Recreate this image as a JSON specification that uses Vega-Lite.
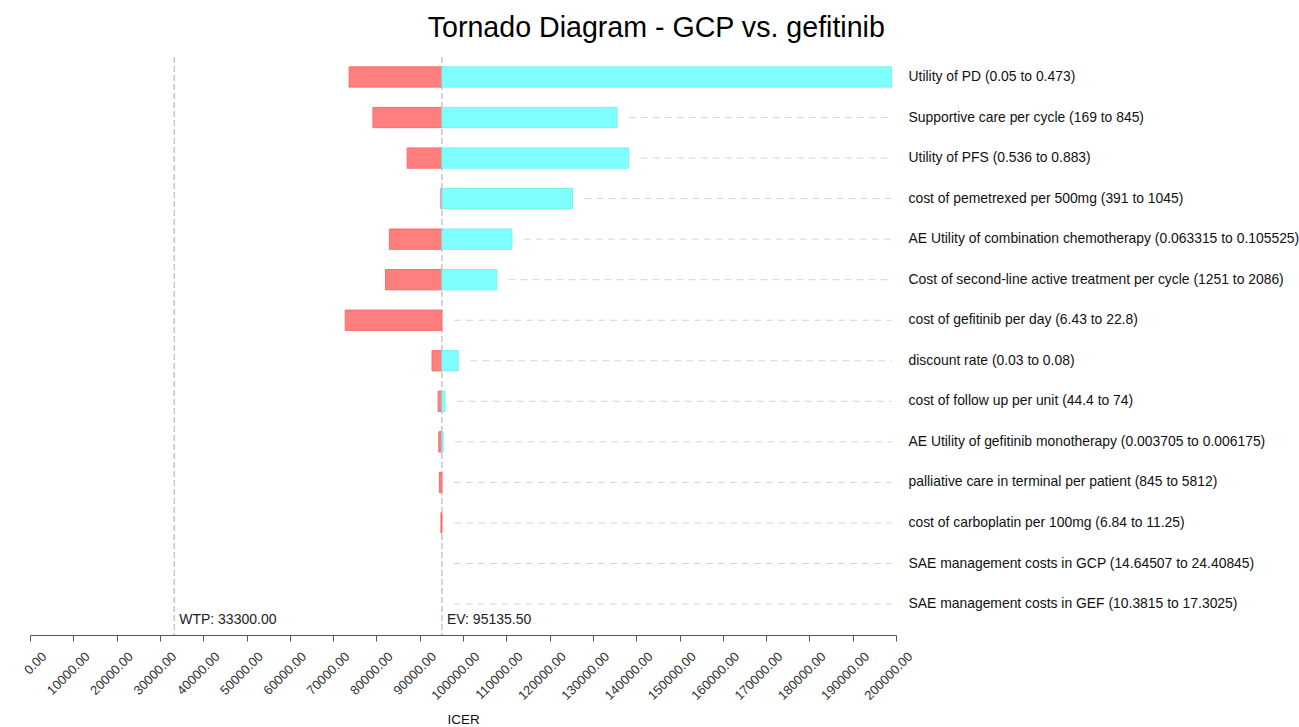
{
  "$schema": "https://vega.github.io/schema/vega-lite/v6.json",
  "autosize": {"type": "none"},
  "padding": {"left": 30, "top": 57, "right": 403, "bottom": 92},
  "width": 866,
  "height": 578,
  "background": "white",
  "config": {
    "font": "Liberation Sans",
    "view": {"stroke": null}
  },
  "title": {
    "text": "Tornado Diagram - GCP vs. gefitinib",
    "fontSize": 28.6,
    "fontWeight": "normal",
    "color": "#000000",
    "anchor": "middle",
    "frame": "bounds",
    "dx": -4,
    "offset": 14
  },
  "datasets": {
    "bars": [
      {"param": "Utility of PD (0.05 to 0.473)", "low": 73700, "high": 199000},
      {"param": "Supportive care per cycle (169 to 845)", "low": 79200, "high": 135600},
      {"param": "Utility of PFS (0.536 to 0.883)", "low": 87100, "high": 138300},
      {"param": "cost of pemetrexed per 500mg (391 to 1045)", "low": 94900, "high": 125300},
      {"param": "AE Utility of combination chemotherapy (0.063315 to 0.105525)", "low": 83000, "high": 111300},
      {"param": "Cost of second-line active treatment per cycle (1251 to 2086)", "low": 82100, "high": 107800},
      {"param": "cost of gefitinib per day (6.43 to 22.8)", "low": 72800, "high": 95135.5},
      {"param": "discount rate (0.03 to 0.08)", "low": 92850, "high": 98900},
      {"param": "cost of follow up per unit (44.4 to 74)", "low": 94250, "high": 95850},
      {"param": "AE Utility of gefitinib monotherapy (0.003705 to 0.006175)", "low": 94400, "high": 95400},
      {"param": "palliative care in terminal per patient (845 to 5812)", "low": 94550, "high": 95135.5},
      {"param": "cost of carboplatin per 100mg (6.84 to 11.25)", "low": 94900, "high": 95135.5},
      {"param": "SAE management costs in GCP (14.64507 to 24.40845)", "low": 95135.5, "high": 95135.5},
      {"param": "SAE management costs in GEF (10.3815 to 17.3025)", "low": 95135.5, "high": 95135.5}
    ],
    "refs": [
      {"label": "WTP: 33300.00", "value": 33300},
      {"label": "EV: 95135.50", "value": 95135.5}
    ]
  },
  "layer": [
    {
      "data": {"name": "bars"},
      "mark": {"type": "bar", "opacity": 0},
      "encoding": {
        "y": {
          "field": "param", "type": "nominal", "sort": null,
          "scale": {"paddingInner": 0.5, "paddingOuter": 0.378, "align": 0.321},
          "axis": {"orient": "right", "title": null, "domain": false, "ticks": false, "labelPadding": 12, "labelFontSize": 13.9, "labelColor": "#111111", "labelLimit": 500, "labelFont": "Liberation Sans"}
        },
        "x": {
          "field": "low", "type": "quantitative",
          "scale": {"domain": [0, 200000], "nice": false, "zero": false},
          "axis": {
            "title": "ICER",
            "titleFontSize": 13.5,
            "titleFontWeight": "normal",
            "titleColor": "#111111",
            "titlePadding": 10,
            "values": [0, 10000, 20000, 30000, 40000, 50000, 60000, 70000, 80000, 90000, 100000, 110000, 120000, 130000, 140000, 150000, 160000, 170000, 180000, 190000, 200000],
            "format": ".2f",
            "labelAngle": -45,
            "labelAlign": "right",
            "labelBaseline": "middle",
            "labelFontSize": 13,
            "labelColor": "#333333",
            "labelOffset": 14,
            "labelPadding": 13,
            "labelOverlap": false,
            "labelFlush": false,
            "grid": false,
            "domainColor": "#555555",
            "tickColor": "#555555",
            "tickSize": 6
          }
        }
      }
    },
    {
      "data": {"name": "bars"},
      "transform": [{"filter": "datum.high < 190000"}],
      "mark": {"type": "rule", "xOffset": 12, "x2Offset": 0, "color": "#d6d6d6", "strokeWidth": 1, "strokeDash": [7, 5]},
      "encoding": {
        "y": {"field": "param", "type": "nominal", "sort": null},
        "x": {"field": "high", "type": "quantitative"},
        "x2": {"datum": 199000}
      }
    },
    {
      "data": {"name": "refs"},
      "mark": {"type": "rule", "color": "#a8a8a8", "strokeWidth": 1, "strokeDash": [6, 3]},
      "encoding": {
        "x": {"field": "value", "type": "quantitative"}
      }
    },
    {
      "data": {"name": "refs"},
      "mark": {"type": "text", "align": "left", "baseline": "bottom", "dx": 5, "dy": -8, "y": {"expr": "height"}, "fontSize": 14, "color": "#222222"},
      "encoding": {
        "x": {"field": "value", "type": "quantitative"},
        "text": {"field": "label"}
      }
    },
    {
      "data": {"name": "bars"},
      "transform": [{"filter": "datum.low < 95135.5"}],
      "mark": {"type": "bar", "color": "#ff7f7f", "stroke": "#ff6a6a", "strokeWidth": 1},
      "encoding": {
        "y": {"field": "param", "type": "nominal", "sort": null},
        "x": {"field": "low", "type": "quantitative"},
        "x2": {"datum": 95135.5}
      }
    },
    {
      "data": {"name": "bars"},
      "transform": [{"filter": "datum.high > 95135.5"}],
      "mark": {"type": "bar", "color": "#7fffff", "stroke": "#70f4f4", "strokeWidth": 1},
      "encoding": {
        "y": {"field": "param", "type": "nominal", "sort": null},
        "x": {"field": "high", "type": "quantitative"},
        "x2": {"datum": 95135.5}
      }
    }
  ]
}
